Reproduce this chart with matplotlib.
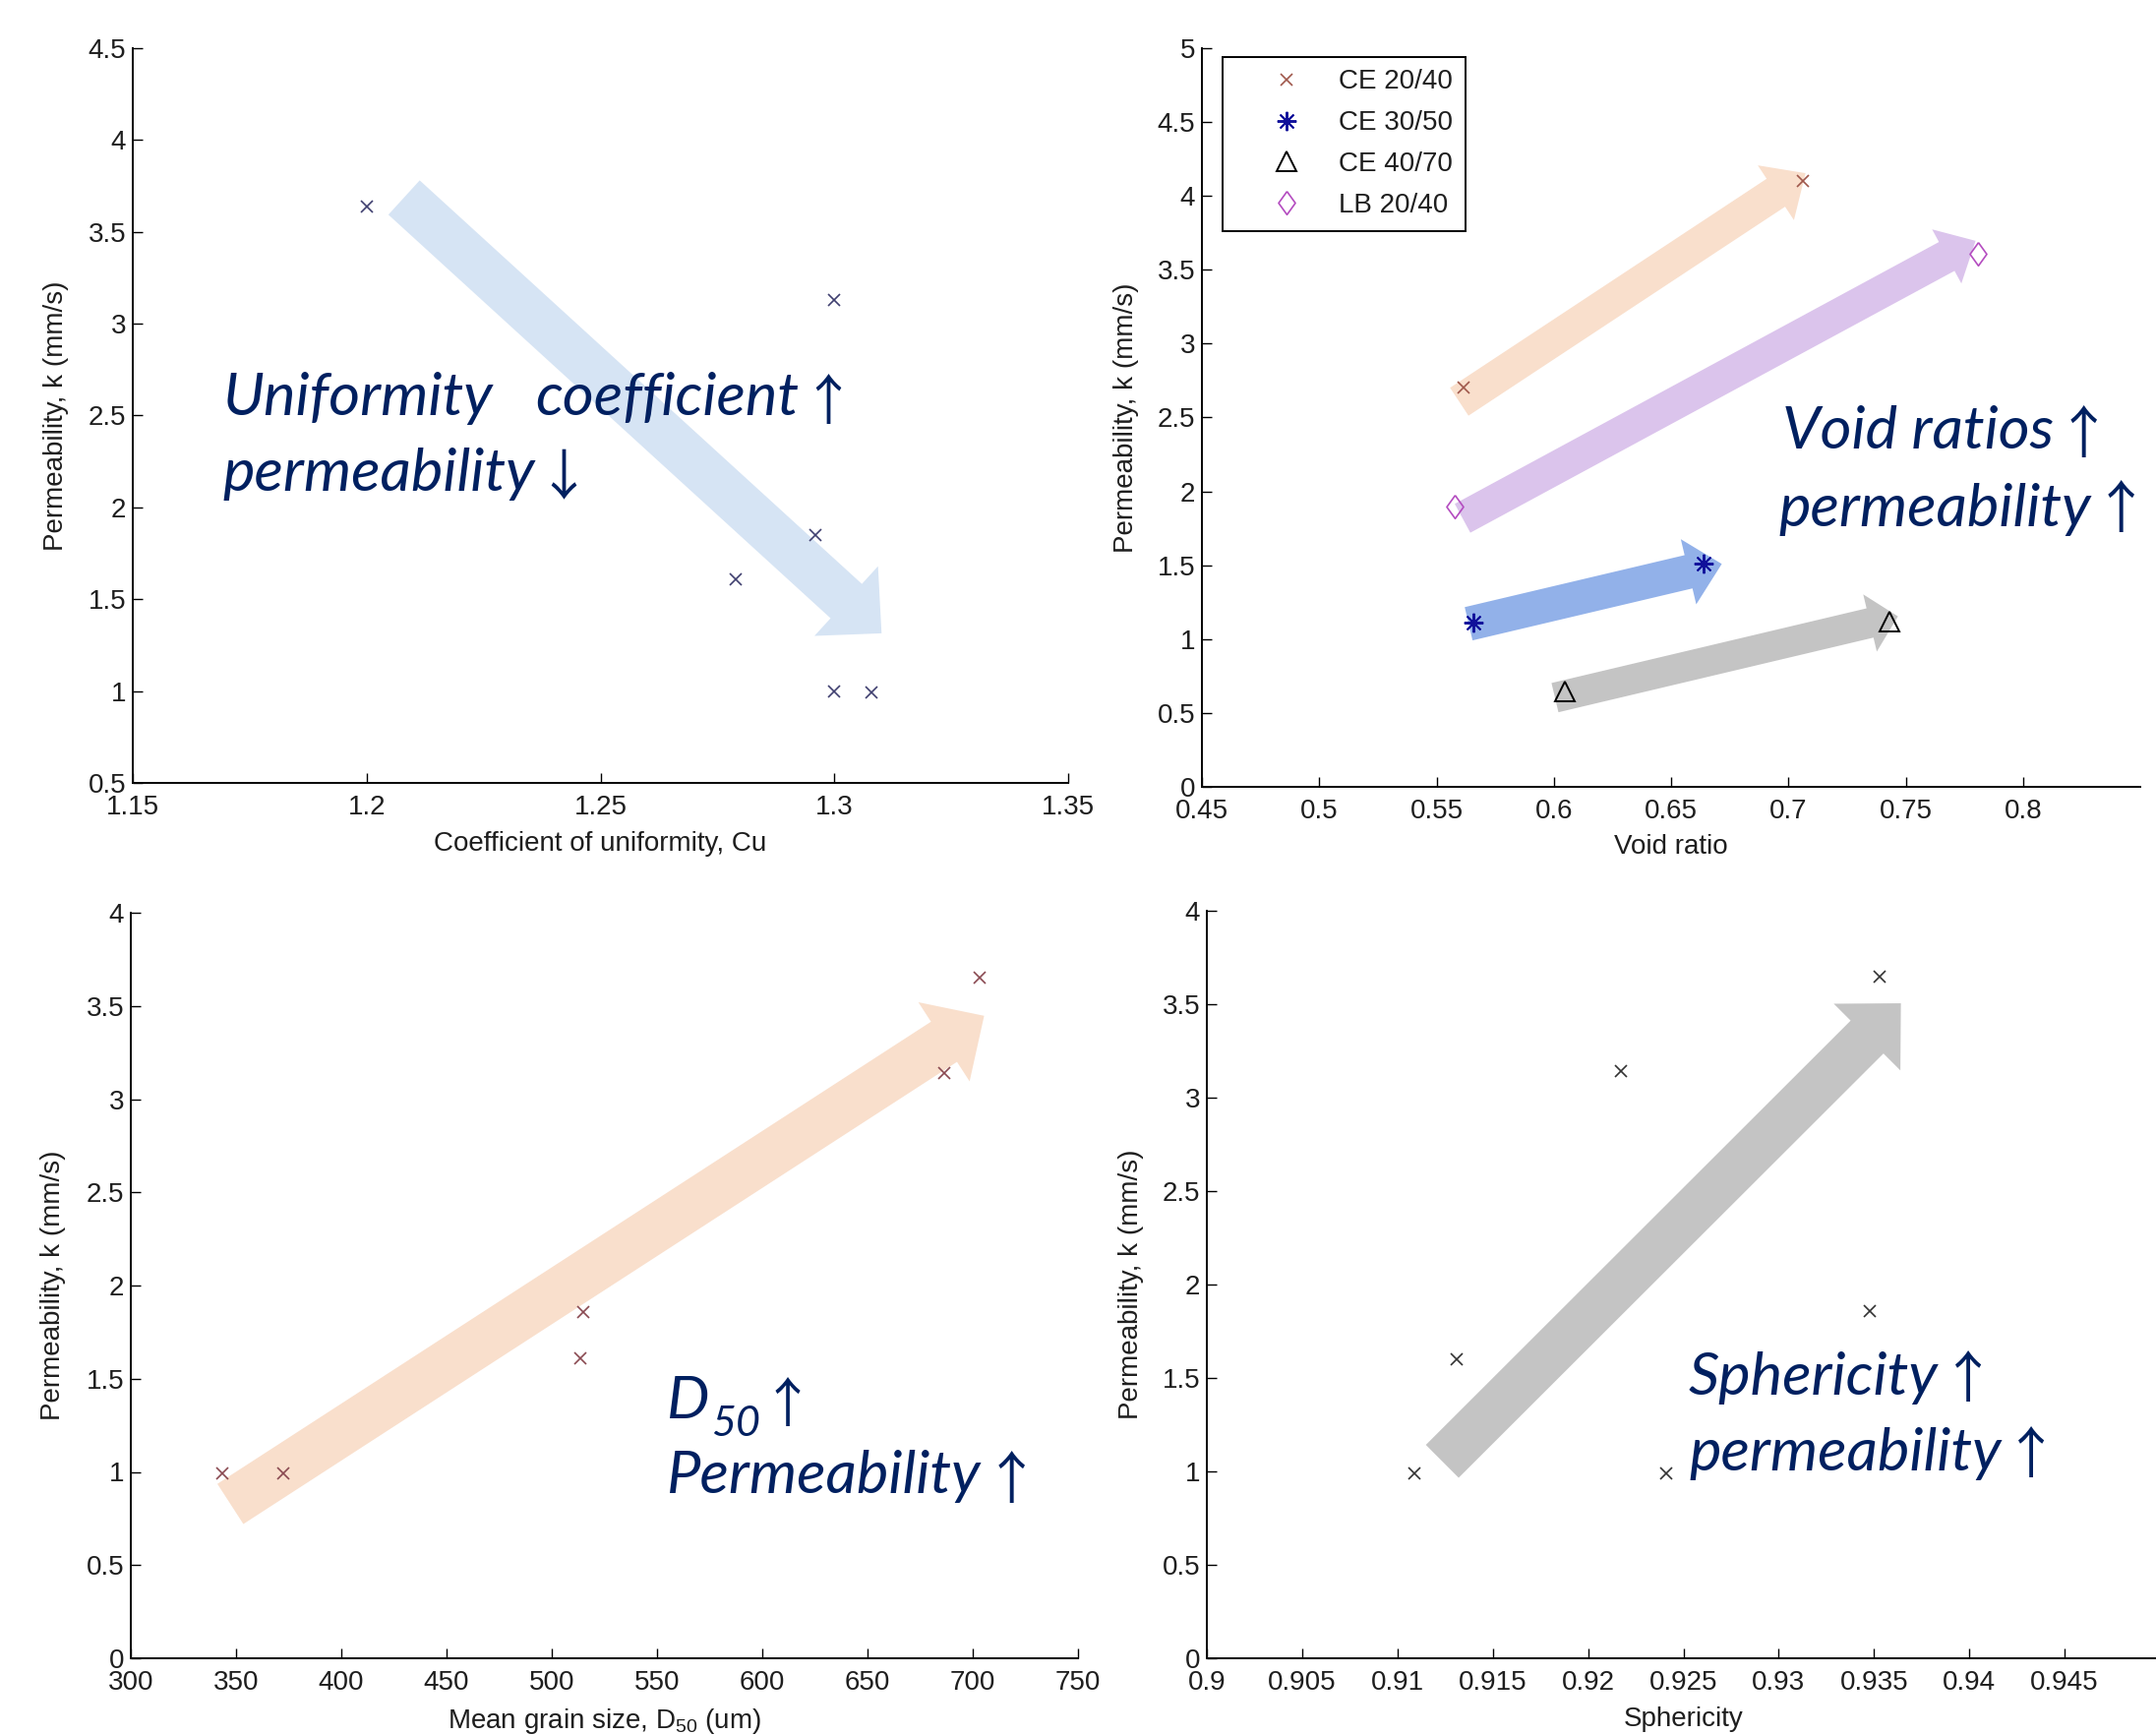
import matplotlib
matplotlib.use("Agg")
import matplotlib.pyplot as plt
from matplotlib.patches import FancyArrowPatch, ArrowStyle
from matplotlib.ticker import FixedLocator, FuncFormatter
from matplotlib.textpath import TextPath
from matplotlib.font_manager import FontProperties

plt.rcParams['font.family'] = ['Liberation Sans', 'DejaVu Sans']
plt.rcParams['mathtext.fontset'] = 'custom'
plt.rcParams['mathtext.rm'] = 'Liberation Sans'
plt.rcParams['mathtext.it'] = 'Lato:italic'

# ---------------- data ----------------
cu = [1.200, 1.300, 1.296, 1.279, 1.300, 1.308]
k_cu = [3.64, 3.13, 1.85, 1.61, 1.00, 0.99]

series_labels = ['CE 20/40', 'CE 30/50', 'CE 40/70', 'LB 20/40']
void_ce2040 = [0.5616, 0.7060]
k_ce2040 = [2.70, 4.10]
void_ce3050 = [0.5657, 0.6637]
k_ce3050 = [1.11, 1.51]
void_ce4070 = [0.6048, 0.7430]
k_ce4070 = [0.645, 1.12]
void_lb2040 = [0.5578, 0.7807]
k_lb2040 = [1.90, 3.61]

d50 = [343.4, 372.2, 514.9, 513.6, 686.6, 703.3]
k_d50 = [0.99, 0.99, 1.86, 1.61, 3.14, 3.65]

sph = [0.9109, 0.9131, 0.9217, 0.9241, 0.9348, 0.9353]
k_sph = [0.99, 1.60, 3.14, 0.99, 1.86, 3.65]

cu_ticks = [1.15, 1.20, 1.25, 1.30, 1.35]
void_ticks = [0.45, 0.50, 0.55, 0.60, 0.65, 0.70, 0.75, 0.80]
d50_ticks = [300, 350, 400, 450, 500, 550, 600, 650, 700, 750]
sph_ticks = [0.900, 0.905, 0.910, 0.915, 0.920, 0.925, 0.930, 0.935, 0.940, 0.945]
k_ticks_a = [0.5, 1, 1.5, 2, 2.5, 3, 3.5, 4, 4.5]
k_ticks_b = [0, 0.5, 1, 1.5, 2, 2.5, 3, 3.5, 4, 4.5, 5]
k_ticks_c = [0, 0.5, 1, 1.5, 2, 2.5, 3, 3.5, 4]

# ---------------- figure ----------------
W, H, DPI = 2192, 1764, 100
fig = plt.figure(figsize=(W / DPI, H / DPI), dpi=DPI)
fig.patch.set_facecolor('white')
renderer = fig.canvas.get_renderer()


def box(l, t, r, b):
    return [l / W, 1 - b / H, (r - l) / W, (b - t) / H]


AXC = '#1e1e1e'
fmt = FuncFormatter(lambda v, p: '%g' % round(v, 6))


def style(ax, xlim, ylim, xticks, yticks, xlabel, ylabel, xlab_y, ylab_x):
    ax.set_xlim(xlim)
    ax.set_ylim(ylim)
    ax.xaxis.set_major_locator(FixedLocator(xticks))
    ax.yaxis.set_major_locator(FixedLocator(yticks))
    ax.xaxis.set_major_formatter(fmt)
    ax.yaxis.set_major_formatter(fmt)
    for s in ['top', 'right']:
        ax.spines[s].set_visible(False)
    for s in ['left', 'bottom']:
        ax.spines[s].set_linewidth(1.4)
        ax.spines[s].set_color('black')
    ax.tick_params(direction='in', length=7, width=1.0, labelsize=20,
                   labelcolor=AXC, color='black')
    ax.tick_params(axis='x', pad=9)
    ax.tick_params(axis='y', pad=5)
    ax.set_xlabel(xlabel, fontsize=20, color=AXC)
    ax.xaxis.set_label_coords(0.5, xlab_y)
    ax.set_ylabel(ylabel, fontsize=20, color=AXC)
    ax.yaxis.set_label_coords(ylab_x, 0.5)


def big_arrow(ax, start, end, tail, head_w, head_l, color):
    st = ArrowStyle.Simple(head_length=head_l, head_width=head_w, tail_width=tail)
    p = FancyArrowPatch(posA=start, posB=end, arrowstyle=st, mutation_scale=1,
                        facecolor=color, edgecolor='none', linewidth=0,
                        shrinkA=0, shrinkB=0, zorder=1)
    ax.add_patch(p)


ylab = 'Permeability, k (mm/s)'

# ---- top left ----
ax1 = fig.add_axes(box(135, 49, 1086, 796))
style(ax1, (1.15, 1.35), (0.5, 4.5), cu_ticks, k_ticks_a,
      'Coefficient of uniformity, Cu', ylab, -0.066, -0.068)
big_arrow(ax1, (1.208, 3.687), (1.3101, 1.3145), 34, 69, 35, '#d6e4f4')
ax1.plot(cu, k_cu, linestyle='none', marker='x', ms=8, mew=1.2,
         color='#404070', zorder=3)

# ---- top right ----
ax2 = fig.add_axes(box(1222, 49, 2176, 800))
style(ax2, (0.45, 0.85), (0, 5), void_ticks, k_ticks_b,
      'Void ratio', ylab, -0.064, -0.067)
big_arrow(ax2, (0.5597, 2.607), (0.7073, 4.154), 24.5, 48, 26, '#f9dfcc')
big_arrow(ax2, (0.5611, 1.818), (0.7798, 3.696), 24, 45, 24, '#dbc4ec')
big_arrow(ax2, (0.5637, 1.104), (0.6716, 1.509), 25, 49, 25, '#92b1e9')
big_arrow(ax2, (0.6005, 0.604), (0.7467, 1.154), 22, 43, 21, '#c4c4c4')
diamond = [(0, 1), (0.72, 0), (0, -1), (-0.72, 0), (0, 1)]
h1, = ax2.plot(void_ce2040, k_ce2040, linestyle='none', marker='x', ms=8,
               mew=1.2, color='#a0584c', zorder=3, label=series_labels[0])
h2, = ax2.plot(void_ce3050, k_ce3050, linestyle='none', marker=(8, 2, 0), ms=14,
               mew=1.4, color='#10109a', zorder=3, label=series_labels[1])
h3, = ax2.plot(void_ce4070, k_ce4070, linestyle='none', marker='^', ms=15,
               mew=1.4, mfc='none', mec='black', zorder=3, label=series_labels[2])
h4, = ax2.plot(void_lb2040, k_lb2040, linestyle='none', marker=diamond, ms=17,
               mew=1.2, mfc='none', mec='#b44cc0', zorder=3, label=series_labels[3])
leg = ax2.legend(handles=[h1, h2, h3, h4], loc='upper left',
                 bbox_to_anchor=((1243 - 1222) / 954, 1 - (58 - 49) / 751),
                 borderaxespad=0, fontsize=20, frameon=True, fancybox=False,
                 framealpha=1, edgecolor='black', numpoints=1,
                 handlelength=3.8, handletextpad=0.0, borderpad=0.45,
                 labelspacing=0.57)
leg.get_frame().set_linewidth(1.4)
for t in leg.get_texts():
    t.set_color(AXC)

# ---- bottom left ----
ax3 = fig.add_axes(box(133, 928, 1096, 1686))
style(ax3, (300, 750), (0, 4), d50_ticks, k_ticks_c,
      r'Mean grain size, D$\mathregular{_{50}}$ (um)', ylab, -0.065, -0.0685)
big_arrow(ax3, (347.3, 0.828), (705.4, 3.447), 35, 69, 35, '#f9dfcc')
ax3.plot(d50, k_d50, linestyle='none', marker='x', ms=8, mew=1.2,
         color='#8a4a52', zorder=3)

# ---- bottom right ----
ax4 = fig.add_axes(box(1227, 926, 2196, 1686))
style(ax4, (0.9, 0.95), (0, 4), sph_ticks, k_ticks_c,
      'Sphericity', ylab, -0.065, -0.066)
big_arrow(ax4, (0.91235, 1.054), (0.93641, 3.505), 34, 69, 35, '#c4c4c4')
ax4.plot(sph, k_sph, linestyle='none', marker='x', ms=8, mew=1.2,
         color='#333333', zorder=3)

# ---------------- annotation text ----------------
TXT = '#002060'
fp_word = FontProperties(family='Lato', style='italic')
ext = TextPath((0, 0), 'permeability', size=100, prop=fp_word).get_extents()
word_size = 100 * (318 * 72 / DPI) / ext.width


def word(s, x, y, size=None):
    size = size or word_size
    t = fig.text(x / W, 1 - y / H, s, family='Lato', style='italic',
                 fontsize=size, color=TXT, ha='left', va='baseline')
    bb = t.get_window_extent(renderer)
    return t, bb.x1


ARROW_FAMILY = ['Noto Sans CJK JP', 'DejaVu Sans']
fp_arrow = FontProperties(family=ARROW_FAMILY)


def arrow_glyph(ch, top, bottom, after, gap=2):
    e = TextPath((0, 0), ch, size=100, prop=fp_arrow).get_extents()
    size = 100 * ((bottom - top) * 72 / DPI) / e.height
    scale = size / 100 * DPI / 72
    base = bottom + e.y0 * scale
    t = fig.text(after / W, 1 - base / H, ch, family=ARROW_FAMILY, fontsize=size,
                 color=TXT, ha='left', va='baseline')
    bb = t.get_window_extent(renderer)
    t.set_x((after + gap + (after - bb.x0)) / W)
    return t


word('Uniformity', 227, 422)
_, r = word('coefficient', 544, 422)
arrow_glyph('\u2191', 380, 431, r)
_, r = word('permeability', 226, 499)
arrow_glyph('\u2193', 457, 508, r)

_, r = word('Void ratios', 1812, 456)
arrow_glyph('\u2191', 412, 465, r)
_, r = word('permeability', 1808, 535)
arrow_glyph('\u2191', 488, 541, r)

_, r = word('D', 678, 1442)
_, r = word('50', max(714, r + 2), 1460, word_size * 0.7)
arrow_glyph('\u2191', 1400, 1450, r, gap=0)
_, r = word('Permeability', 678, 1518)
arrow_glyph('\u2191', 1475, 1528, r)

_, r = word('Sphericity', 1717, 1418)
arrow_glyph('\u2191', 1373, 1425, r)
_, r = word('permeability', 1717, 1495)
arrow_glyph('\u2191', 1450, 1502, r)

fig.savefig('out.png', dpi=DPI, facecolor='white')
